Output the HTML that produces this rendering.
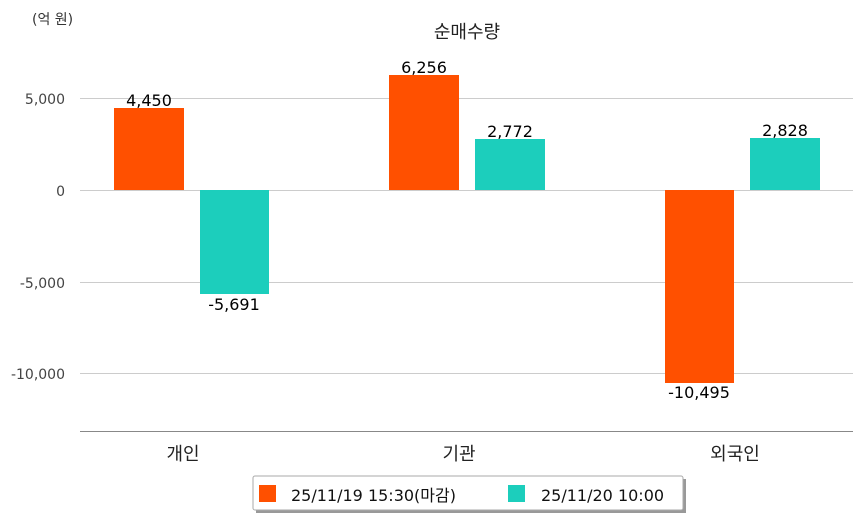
<!DOCTYPE html>
<html><head><meta charset="utf-8"><style>
body{margin:0;background:#fff;}
svg text{font-family:"DejaVu Sans","Noto Sans CJK KR",sans-serif;}
</style></head><body>
<svg width="863" height="520" xmlns="http://www.w3.org/2000/svg">
<rect width="863" height="520" fill="#fff"/>
<text x="32" y="24" font-size="14" fill="#333">(억 원)</text>
<text x="467" y="38" font-size="18" fill="#222" text-anchor="middle">순매수량</text>
<g stroke="#ccc" stroke-width="1">
<line x1="80" y1="98.5" x2="853" y2="98.5"/>
<line x1="80" y1="190.5" x2="853" y2="190.5"/>
<line x1="80" y1="282.5" x2="853" y2="282.5"/>
<line x1="80" y1="373.5" x2="853" y2="373.5"/>
</g>
<line x1="80" y1="431.5" x2="853" y2="431.5" stroke="#888"/>
<g font-size="14" fill="#444" text-anchor="end">
<text x="65" y="104">5,000</text>
<text x="65" y="196">0</text>
<text x="65" y="288">-5,000</text>
<text x="65" y="379">-10,000</text>
</g>
<rect x="114" y="108" width="70" height="82" fill="#ff5000"/>
<rect x="200" y="190" width="69" height="104" fill="#1ccebc"/>
<rect x="389" y="75" width="70" height="115" fill="#ff5000"/>
<rect x="475" y="139" width="70" height="51" fill="#1ccebc"/>
<rect x="665" y="190" width="69" height="193" fill="#ff5000"/>
<rect x="750" y="138" width="70" height="52" fill="#1ccebc"/>
<g font-size="16" fill="#000" text-anchor="middle">
<text x="149" y="106">4,450</text>
<text x="234" y="310">-5,691</text>
<text x="424" y="73">6,256</text>
<text x="510" y="137">2,772</text>
<text x="699" y="398">-10,495</text>
<text x="785" y="136">2,828</text>
</g>
<g font-size="18" fill="#222" text-anchor="middle">
<text x="183" y="460">개인</text>
<text x="459" y="460">기관</text>
<text x="735" y="460">외국인</text>
</g>
<rect x="256" y="479" width="430" height="34" fill="#999"/>
<rect x="253" y="476" width="430" height="34" fill="#fff" stroke="#aaa" rx="2"/>
<rect x="259" y="485" width="17" height="17" fill="#ff5000"/>
<text x="291" y="501" font-size="16" fill="#111">25/11/19 15:30(마감)</text>
<rect x="508" y="485" width="17" height="17" fill="#1ccebc"/>
<text x="541" y="501" font-size="16" fill="#111">25/11/20 10:00</text>
</svg>
</body></html>
